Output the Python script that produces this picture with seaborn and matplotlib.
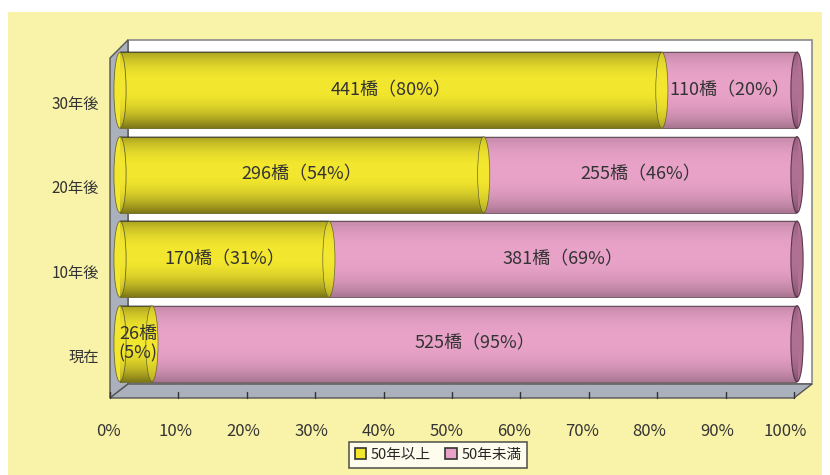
import numpy as np
import pandas as pd
import matplotlib
matplotlib.use("Agg")
import matplotlib.pyplot as plt
from matplotlib.patches import Rectangle, Polygon, Ellipse
from matplotlib.transforms import ScaledTranslation
import seaborn as sns

# ---- data ----
periods = ["30年後", "20年後", "10年後", "現在"]
over_50 = [441, 296, 170, 26]      # 50年以上
under_50 = [110, 255, 381, 525]    # 50年未満
pct_over = [80, 54, 31, 5]
pct_under = [20, 46, 69, 95]
xtick_vals = [0, 10, 20, 30, 40, 50, 60, 70, 80, 90, 100]
legend_labels = ["50年以上", "50年未満"]

totals = [a + b for a, b in zip(over_50, under_50)]
df = pd.DataFrame({
    "period": periods,
    "over": [a / t * 100 for a, t in zip(over_50, totals)],
    "total": [100.0] * len(periods),
})

YELLOW = "#f2e62e"
PINK = "#e8a2c8"
PINK_DARK = "#b07094"
GRAY = "#aab0bc"
BG = "#f9f2a9"

sns.set_style("white")
plt.rcParams["font.family"] = ["Noto Sans CJK JP", "DejaVu Sans"]

W, H = 830, 475
fig = plt.figure(figsize=(W / 100, H / 100), dpi=100, facecolor="white")


def fx(px):
    return px / W


def fy(py):
    return 1 - py / H


# pale yellow backdrop
fig.patches.append(Rectangle((fx(8), 0), fx(822) - fx(8), fy(12), transform=fig.transFigure,
                             facecolor=BG, edgecolor="none", zorder=-3))
# back wall of the 3D frame
fig.patches.append(Rectangle((fx(128), fy(384)), fx(812) - fx(128), fy(40) - fy(384),
                             transform=fig.transFigure, facecolor="white",
                             edgecolor="#8a8a8a", lw=1.2, zorder=-2))
# left wall
fig.patches.append(Polygon([(fx(110), fy(398)), (fx(110), fy(58)), (fx(128), fy(40)),
                            (fx(128), fy(384))], closed=True, transform=fig.transFigure,
                           facecolor=GRAY, edgecolor="#555555", lw=1.0, zorder=-1.5))
# floor
fig.patches.append(Polygon([(fx(110), fy(398)), (fx(794), fy(398)), (fx(812), fy(384)),
                            (fx(128), fy(384))], closed=True, transform=fig.transFigure,
                           facecolor=GRAY, edgecolor="#555555", lw=1.0, zorder=-1.5))
# floor tick marks
for i in range(11):
    x = 110 + i * 68.4
    fig.lines.append(plt.Line2D([fx(x), fx(x)], [fy(398), fy(392)], transform=fig.transFigure,
                                color="#333333", lw=1.0, zorder=-1))

ax = fig.add_axes([fx(120), fy(386), fx(797) - fx(120), fy(48) - fy(386)])
ax.set_facecolor("none")
ax.set_zorder(2)

sns.barplot(data=df, y="period", x="total", color=PINK, orient="h", width=0.9,
            order=periods, ax=ax, saturation=1, edgecolor="#6a4a5a", linewidth=0.6)
sns.barplot(data=df, y="period", x="over", color=YELLOW, orient="h", width=0.9,
            order=periods, ax=ax, saturation=1, edgecolor="#6a6a30", linewidth=0.6)

# cylinder end caps, placed at the data boundaries
cap_w = 1.8
for i, row in df.iterrows():
    ax.add_patch(Ellipse((0, i), cap_w, 0.9, facecolor=YELLOW,
                         edgecolor="#6a6a30", lw=0.6, zorder=1.5, clip_on=False))
    ax.add_patch(Ellipse((row["total"], i), cap_w, 0.9, facecolor=PINK_DARK,
                         edgecolor="#5a3a4a", lw=0.8, zorder=3, clip_on=False))
    ax.add_patch(Ellipse((row["over"], i), cap_w, 0.9, facecolor=YELLOW,
                         edgecolor="#6a6a30", lw=0.5, zorder=3, clip_on=False))

# cylindrical shading across each bar
t = np.linspace(0, 1, 200)
alpha = 0.28 * np.clip(np.abs(t - 0.45) / 0.55, 0, 1) ** 2.5
shade = np.zeros((200, 1, 4))
shade[:, 0, 3] = alpha
for p in list(ax.patches):
    if isinstance(p, Ellipse):
        cx, cy = p.center
        ext = [cx - p.width / 2, cx + p.width / 2, cy + p.height / 2, cy - p.height / 2]
    else:
        ext = [p.get_x(), p.get_x() + p.get_width(), p.get_y() + p.get_height(), p.get_y()]
    im = ax.imshow(shade, extent=ext, aspect="auto", zorder=p.get_zorder() + 0.01,
                   interpolation="bilinear")
    im.set_clip_path(p)
    im.set_clip_box(None)
ax.set_xlim(0, 100)
ax.set_ylim(3.5, -0.5)

# value labels
for i, row in df.iterrows():
    ov = row["over"]
    if pct_over[i] >= 10:
        ax.text(ov / 2, i, f"{over_50[i]}橋（{pct_over[i]}%）", ha="center", va="center",
                fontsize=13, color="#333333", zorder=5)
    else:
        ax.text(ov / 2 + 0.3, i, f"{over_50[i]}橋\n({pct_over[i]}%)", ha="center",
                va="center", fontsize=13, color="#333333", linespacing=1.1, zorder=5)
    ax.text(ov + (100 - ov) / 2, i, f"{under_50[i]}橋（{pct_under[i]}%）", ha="center",
            va="center", fontsize=13, color="#333333", zorder=5)

ax.set_xticks(xtick_vals)
ax.set_xticklabels([f"{v}%" for v in xtick_vals], fontsize=12, color="#333333")
ax.tick_params(axis="x", length=0, pad=27)
ax.tick_params(axis="y", length=0, pad=15, labelsize=11, labelcolor="#333333")
for lab in ax.get_xticklabels():
    lab.set_transform(lab.get_transform() + ScaledTranslation(-12 / 100, 0, fig.dpi_scale_trans))
for lab in ax.get_yticklabels():
    lab.set_transform(lab.get_transform() + ScaledTranslation(0, -12 / 100, fig.dpi_scale_trans))
ax.set_xlabel("")
ax.set_ylabel("")
for s in ax.spines.values():
    s.set_visible(False)

handles = [Rectangle((0, 0), 1, 1, facecolor=YELLOW, edgecolor="#333333", lw=1.2),
           Rectangle((0, 0), 1, 1, facecolor=PINK, edgecolor="#333333", lw=1.2)]
leg = fig.legend(handles, legend_labels, loc="lower center", bbox_to_anchor=(fx(438), 0.0),
                 ncol=2, fontsize=10.5, frameon=True, fancybox=False, handlelength=0.8,
                 handleheight=0.8, handletextpad=0.3, columnspacing=1.0,
                 borderpad=0.4)
leg.get_frame().set_edgecolor("#333333")
leg.get_frame().set_linewidth(1.2)
leg.get_frame().set_facecolor("white")

fig.savefig("out.png", dpi=100, facecolor=fig.get_facecolor())
